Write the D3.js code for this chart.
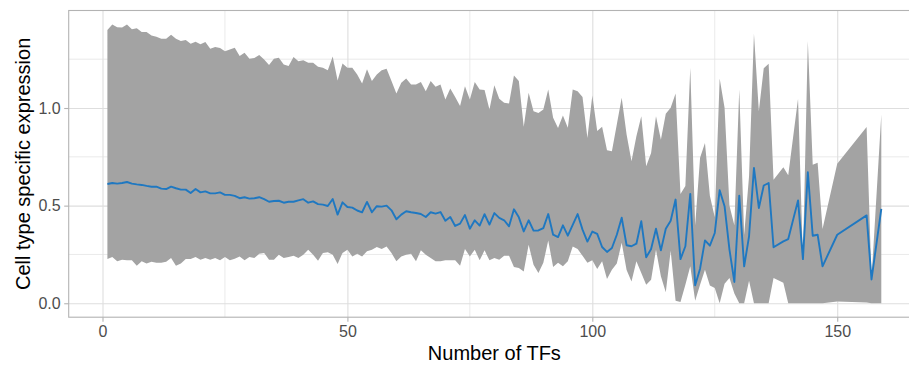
<!DOCTYPE html>
<html>
<head>
<meta charset="utf-8">
<script src="https://cdn.jsdelivr.net/npm/d3@7"></script>
<style>
  html, body { margin: 0; padding: 0; background: #ffffff; overflow: hidden; }
  svg { display: block; font-family: "Liberation Sans", Arial, sans-serif; }
</style>
</head>
<body>
<div id="tf_chart"></div>
<script>
// number of TFs (x)
const tfCount = [
  1, 2, 3, 4, 5, 6, 7, 8, 9, 10, 11, 12, 13, 14, 15, 16, 17, 18, 19, 20,
  21, 22, 23, 24, 25, 26, 27, 28, 29, 30, 31, 32, 33, 34, 35, 36, 37, 38, 39, 40,
  41, 42, 43, 44, 45, 46, 47, 48, 49, 50, 51, 52, 53, 54, 55, 56, 57, 58, 59, 60,
  61, 62, 63, 64, 65, 66, 67, 68, 69, 70, 71, 72, 73, 74, 75, 76, 77, 78, 79, 80,
  81, 82, 83, 84, 85, 86, 87, 88, 89, 90, 91, 92, 93, 94, 95, 96, 97, 98, 99, 100,
  101, 102, 103, 104, 105, 106, 107, 108, 109, 110, 111, 112, 113, 114, 115, 116,
  117, 118, 119, 120, 121, 122, 123, 124, 125, 126, 127, 128, 129, 130, 131, 132,
  133, 134, 135, 136, 137, 139, 140, 142, 143, 144, 145, 146, 147, 150, 156, 157, 159
]

// mean cell type specific expression
const meanExpr = [
  0.611, 0.616, 0.613, 0.616, 0.621, 0.613, 0.609, 0.606, 0.601, 0.597,
  0.597, 0.587, 0.585, 0.597, 0.589, 0.582, 0.582, 0.565, 0.585, 0.568,
  0.573, 0.563, 0.563, 0.568, 0.555, 0.555, 0.550, 0.538, 0.543, 0.536,
  0.538, 0.543, 0.533, 0.520, 0.524, 0.525, 0.515, 0.520, 0.520, 0.527,
  0.533, 0.515, 0.522, 0.508, 0.505, 0.498, 0.534, 0.454, 0.517, 0.493,
  0.490, 0.475, 0.466, 0.519,
  0.466, 0.497, 0.495, 0.500, 0.476, 0.430, 0.454, 0.471, 0.466, 0.462,
  0.457, 0.442, 0.466, 0.459, 0.467, 0.423, 0.442, 0.396, 0.408, 0.452,
  0.382, 0.425, 0.398, 0.456, 0.403, 0.462, 0.437, 0.425, 0.394, 0.481,
  0.440, 0.368, 0.425, 0.372, 0.373, 0.385, 0.457, 0.351, 0.339, 0.399,
  0.346, 0.401, 0.457, 0.377, 0.316, 0.367, 0.355, 0.288, 0.263, 0.283,
  0.351, 0.438,
  0.297, 0.292, 0.305, 0.420, 0.235, 0.278, 0.382, 0.271, 0.382, 0.423,
  0.531, 0.226, 0.292, 0.560, 0.092, 0.177, 0.322, 0.295, 0.360, 0.579,
  0.497, 0.275, 0.109, 0.551, 0.189, 0.343, 0.693, 0.488, 0.603, 0.616,
  0.287, 0.317, 0.329, 0.527, 0.226, 0.671, 0.346, 0.351, 0.189, 0.351,
  0.450, 0.122, 0.483
]

// upper edge of the ribbon
const upperExpr = [
  1.399, 1.428, 1.414, 1.412, 1.428, 1.403, 1.408, 1.389, 1.389, 1.372,
  1.365, 1.355, 1.355, 1.375, 1.355, 1.343, 1.348, 1.329, 1.339, 1.326,
  1.338, 1.303, 1.312, 1.307, 1.291, 1.300, 1.309, 1.266, 1.283, 1.252,
  1.256, 1.271, 1.249, 1.220, 1.252, 1.257, 1.223, 1.215, 1.261, 1.240,
  1.245, 1.232, 1.232, 1.211, 1.206, 1.194, 1.264, 1.141, 1.228, 1.206,
  1.206, 1.172, 1.126, 1.198,
  1.138, 1.172, 1.193, 1.201, 1.138, 1.074, 1.129, 1.151, 1.121, 1.121,
  1.133, 1.086, 1.138, 1.109, 1.121, 1.044, 1.100, 1.057, 1.010, 1.112,
  1.044, 1.133, 1.095, 1.092, 0.992, 1.116, 1.047, 1.027, 1.023, 1.167,
  1.138, 0.904, 1.078, 0.984, 0.975, 0.992, 1.095, 0.950, 0.898, 0.962,
  0.899, 1.095, 1.086, 1.057, 0.847, 1.064, 0.882, 0.904, 0.784, 0.779,
  0.915, 1.052,
  0.864, 0.727, 0.855, 0.958, 0.702, 0.770, 0.958, 0.838, 0.970, 1.001,
  1.074, 0.560, 0.600, 1.206, 0.400, 0.745, 0.821, 0.550, 0.440, 1.151,
  1.001, 0.500, 0.400, 1.095, 0.350, 0.650, 1.380, 0.984, 1.203, 1.227,
  0.633, 0.697, 0.656, 1.047, 0.230, 1.343, 0.710, 0.719, 0.380, 0.715,
  0.903, 0.125, 0.967
]

// lower edge of the ribbon
const lowerExpr = [
  0.227, 0.237, 0.215, 0.223, 0.220, 0.220, 0.192, 0.215, 0.203, 0.213,
  0.207, 0.207, 0.212, 0.232, 0.192, 0.203, 0.227, 0.227, 0.237, 0.223,
  0.232, 0.223, 0.232, 0.220, 0.237, 0.220, 0.228, 0.240, 0.220, 0.237,
  0.232, 0.253, 0.258, 0.223, 0.223, 0.248, 0.232, 0.237, 0.243, 0.232,
  0.248, 0.274, 0.248, 0.218, 0.258, 0.261, 0.248, 0.201, 0.258, 0.274,
  0.240, 0.253, 0.240, 0.266,
  0.274, 0.288, 0.278, 0.291, 0.257, 0.215, 0.240, 0.248, 0.253, 0.215,
  0.271, 0.248, 0.232, 0.215, 0.215, 0.220, 0.220, 0.220, 0.192, 0.278,
  0.240, 0.274, 0.220, 0.271, 0.220, 0.232, 0.223, 0.243, 0.243, 0.186,
  0.181, 0.163, 0.300, 0.197, 0.155, 0.207, 0.322, 0.186, 0.207, 0.189,
  0.215, 0.291, 0.278, 0.243, 0.207, 0.220, 0.175, 0.215, 0.124, 0.172,
  0.203, 0.310,
  0.170, 0.112, 0.215, 0.155, 0.095, 0.121, 0.274, 0.138, 0.057, 0.269,
  0.013, 0.006, 0.095, 0.189, 0.013, 0.095, 0.172, 0.091, 0.078, 0.000,
  0.100, 0.130, 0.050, 0.000, 0.000, 0.115, 0.000, 0.000, 0.000, 0.000,
  0.129, 0.105, 0.000, 0.000, 0.000, 0.000, 0.000, 0.000, 0.000, 0.009,
  0.004, 0.000, 0.000
]

const xMajorTicks = [0, 50, 100, 150]
const xMinorTicks = [25, 75, 125, 175]
const yMajorTicks = [0, 0.5, 1.0]
const yMinorTicks = [0.25, 0.75, 1.25]

const data = tfCount.map(function (x, i) {
  return { x: x, mean: meanExpr[i], upper: upperExpr[i], lower: lowerExpr[i] }
})

const fullWidth = 909, fullHeight = 365
const margin = { top: 10.5, right: -11, bottom: 47.8, left: 68.7 },
  width = fullWidth - margin.left - margin.right,
  height = fullHeight - margin.top - margin.bottom

// ggplot style 5% padding on both sides
function padded(lo, hi) {
  const pad = (hi - lo) * 0.05
  return [lo - pad, hi + pad]
}

const xScale = d3.scaleLinear()
  .domain(padded(d3.min(data, d => d.x), d3.max(data, d => d.x)))
  .range([0, width])

const yScale = d3.scaleLinear()
  .domain(padded(d3.min(data, d => d.lower), d3.max(data, d => d.upper)))
  .range([height, 0])

const svg = d3.select('#tf_chart')
  .append('svg')
  .attr('width', fullWidth)
  .attr('height', fullHeight)

const g = svg.append('g')
  .attr('transform', 'translate(' + margin.left + ',' + margin.top + ')')

// grid lines first so they sit under everything
const grid = g.append('g').attr('class', 'grid')

grid.selectAll('.y_minor')
  .data(yMinorTicks)
  .join('line')
  .attr('x1', 0).attr('x2', width)
  .attr('y1', d => yScale(d)).attr('y2', d => yScale(d))
  .attr('stroke', '#e5e5e5').attr('stroke-width', 0.8)

grid.selectAll('.x_minor')
  .data(xMinorTicks)
  .join('line')
  .attr('y1', 0).attr('y2', height)
  .attr('x1', d => xScale(d)).attr('x2', d => xScale(d))
  .attr('stroke', '#e5e5e5').attr('stroke-width', 0.8)

grid.append('g')
  .call(d3.axisLeft(yScale).tickValues(yMajorTicks).tickSize(-width).tickFormat(''))
  .call(a => a.select('.domain').remove())
  .call(a => a.selectAll('line').attr('stroke', '#dedede').attr('stroke-width', 1.1))

grid.append('g')
  .attr('transform', 'translate(0,' + height + ')')
  .call(d3.axisBottom(xScale).tickValues(xMajorTicks).tickSize(height).tickFormat(''))
  .call(a => a.select('.domain').remove())
  .call(a => a.selectAll('line').attr('transform', 'translate(0,' + (-height) + ')')
    .attr('y1', 0).attr('y2', height)
    .attr('stroke', '#dedede').attr('stroke-width', 1.1))

// ribbon
const areaGenerator = d3.area()
  .x(d => xScale(d.x))
  .y0(d => yScale(d.lower))
  .y1(d => yScale(d.upper))

g.append('path')
  .datum(data)
  .attr('class', 'ribbon')
  .attr('d', areaGenerator)
  .attr('fill', '#a3a3a3')

// mean line on top
const lineGenerator = d3.line()
  .x(d => xScale(d.x))
  .y(d => yScale(d.mean))

g.append('path')
  .datum(data)
  .attr('class', 'line')
  .attr('d', lineGenerator)
  .attr('fill', 'none')
  .attr('stroke', '#1f78c1')
  .attr('stroke-width', 1.9)
  .attr('stroke-linejoin', 'round')

// panel border
g.append('rect')
  .attr('x', 0).attr('y', 0)
  .attr('width', width).attr('height', height)
  .attr('fill', 'none')
  .attr('stroke', '#b3b3b3')
  .attr('stroke-width', 1.1)

// axes
const yAxis = g.append('g')
  .attr('class', 'y_axis')
  .call(d3.axisLeft(yScale).tickValues(yMajorTicks).tickSize(4.5).tickPadding(3.5).tickFormat(d3.format('.1f')))
yAxis.select('.domain').remove()
yAxis.selectAll('line').attr('stroke', '#b3b3b3').attr('stroke-width', 1.1)
yAxis.selectAll('text')
  .attr('fill', '#4d4d4d')
  .style('font-size', '16px')
  .style('font-family', '"Liberation Sans", Arial, sans-serif')

const xAxis = g.append('g')
  .attr('class', 'x_axis')
  .attr('transform', 'translate(0,' + height + ')')
  .call(d3.axisBottom(xScale).tickValues(xMajorTicks).tickSize(4.5).tickPadding(4))
xAxis.select('.domain').remove()
xAxis.selectAll('line').attr('stroke', '#b3b3b3').attr('stroke-width', 1.1)
xAxis.selectAll('text')
  .attr('fill', '#4d4d4d')
  .style('font-size', '16px')
  .style('font-family', '"Liberation Sans", Arial, sans-serif')

// axis titles
svg.append('text')
  .attr('x', margin.left + width / 2)
  .attr('y', 360)
  .attr('text-anchor', 'middle')
  .style('font-size', '20px')
  .attr('fill', '#000000')
  .text('Number of TFs')

svg.append('text')
  .attr('transform', 'translate(29.5,' + (margin.top + height / 2) + ') rotate(-90)')
  .attr('text-anchor', 'middle')
  .style('font-size', '20px')
  .attr('fill', '#000000')
  .text('Cell type specific expression')
</script>
</body>
</html>
